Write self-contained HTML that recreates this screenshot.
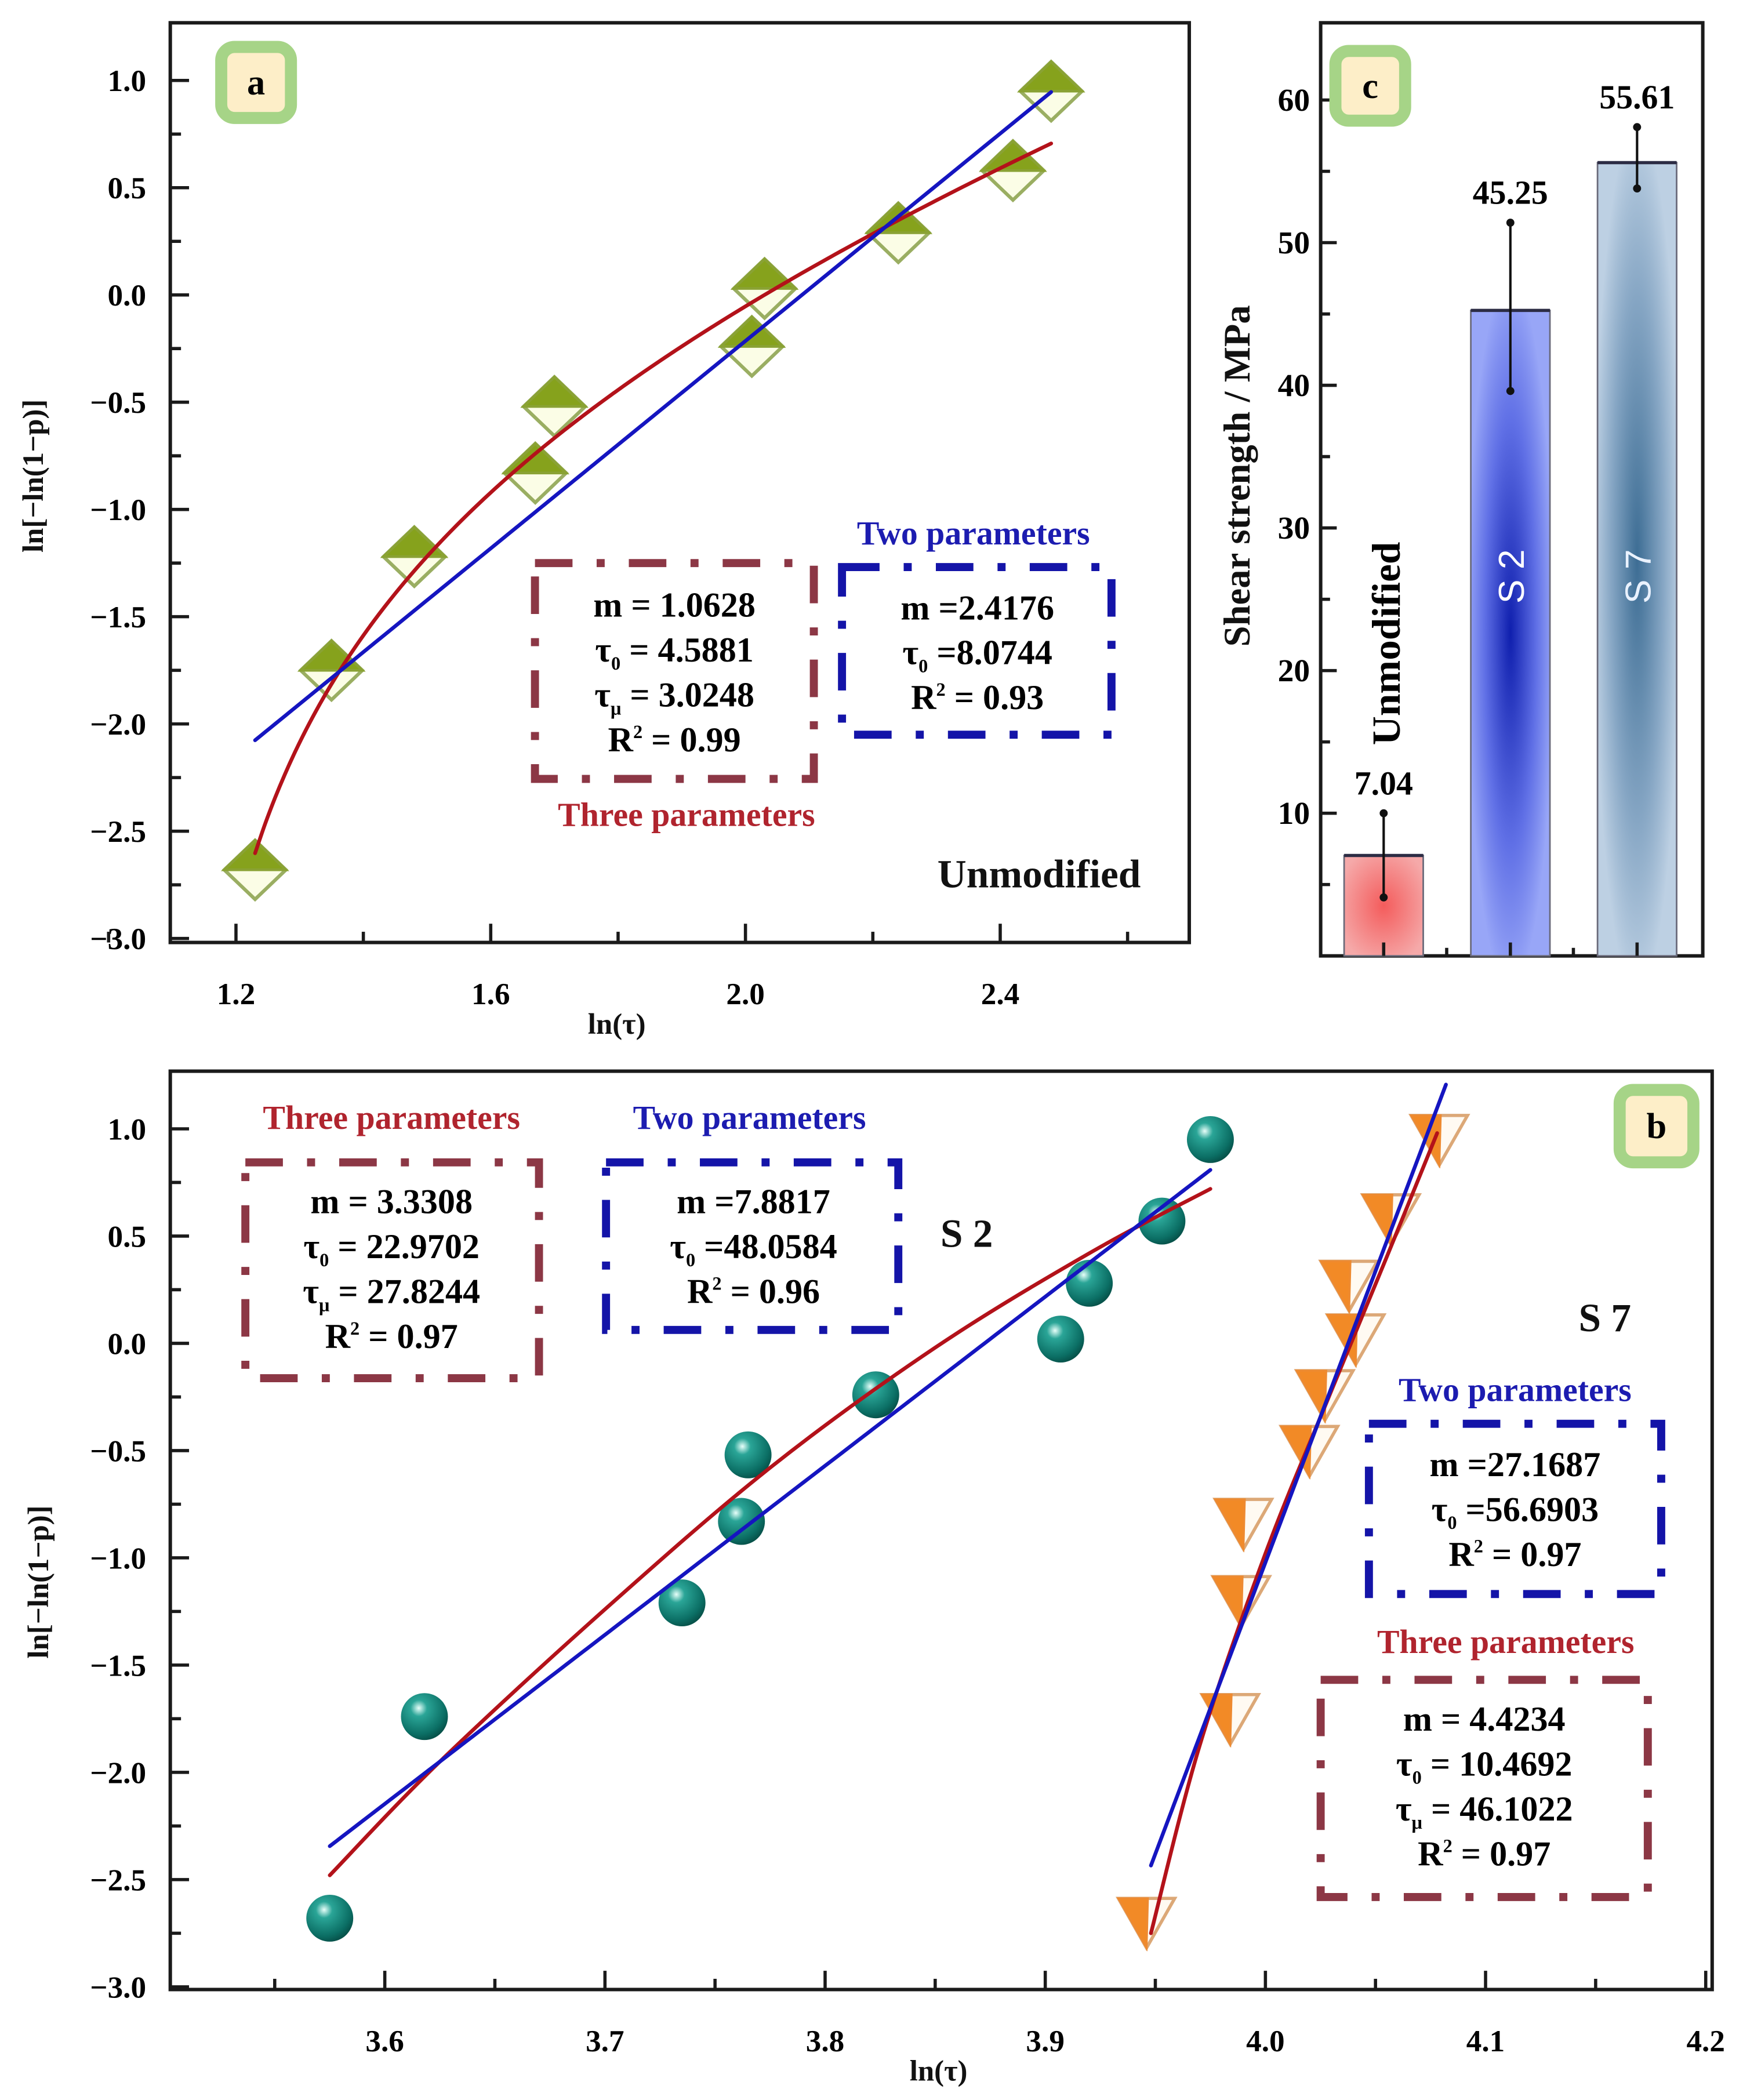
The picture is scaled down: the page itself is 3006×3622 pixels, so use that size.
<!DOCTYPE html>
<html><head><meta charset="utf-8"><style>
html,body{margin:0;padding:0;background:#fff;}
svg{display:block;}
text{font-family:"Liberation Serif",serif;font-weight:bold;}
</style></head><body>
<svg id="fig" width="3006" height="3622" viewBox="0 0 1300 1566.4" preserveAspectRatio="none" xmlns="http://www.w3.org/2000/svg">
<defs>
<radialGradient id="gSphere" cx="0.38" cy="0.32" r="0.7">
<stop offset="0" stop-color="#e8fffa"/><stop offset="0.25" stop-color="#2aa597"/><stop offset="0.8" stop-color="#0b6e64"/><stop offset="1" stop-color="#07524a"/></radialGradient>
<radialGradient id="gRed" cx="0.5" cy="0.5" r="0.6"><stop offset="0" stop-color="#f45c5c"/><stop offset="1" stop-color="#f5a9a9"/></radialGradient>
<radialGradient id="gBlue" cx="0.5" cy="0.5" r="0.55"><stop offset="0" stop-color="#0f1fae"/><stop offset="0.6" stop-color="#6070e6"/><stop offset="1" stop-color="#98a6f7"/></radialGradient>
<radialGradient id="gSteel" cx="0.5" cy="0.5" r="0.55"><stop offset="0" stop-color="#3d6d94"/><stop offset="0.6" stop-color="#86a6c4"/><stop offset="1" stop-color="#bdd0e3"/></radialGradient>
</defs>
<g id="root"></g>
</svg>
<script>
// ---------- Panel a data ----------
const aX = [1.23, 1.35, 1.48, 1.67, 1.70, 2.01, 2.03, 2.24, 2.42, 2.48];
const aY = [-2.68, -1.75, -1.22, -0.83, -0.52, -0.24, 0.03, 0.29, 0.58, 0.95];
const aTwoM = 2.4176, aTwoT0 = 8.0744;
const aThreeM = 1.0628, aThreeT0 = 4.5881, aThreeTu = 3.0248;
const aXRange = [1.23, 2.48];
const aXTicks = [1.2, 1.6, 2.0, 2.4];
const aXTickLabels = ["1.2", "1.6", "2.0", "2.4"];
const yTicks = [1.0, 0.5, 0.0, -0.5, -1.0, -1.5, -2.0, -2.5, -3.0];
const yTickLabels = ["1.0", "0.5", "0.0", "\u22120.5", "\u22121.0", "\u22121.5", "\u22122.0", "\u22122.5", "\u22123.0"];
// ---------- Panel b data ----------
const s2X = [3.575, 3.618, 3.735, 3.762, 3.765, 3.823, 3.907, 3.920, 3.953, 3.975];
const s2Y = [-2.68, -1.74, -1.21, -0.83, -0.52, -0.24, 0.02, 0.28, 0.57, 0.95];
const s7X = [3.946, 3.984, 3.989, 3.990, 4.020, 4.027, 4.041, 4.038, 4.057, 4.079];
const s7Y = [-2.70, -1.75, -1.20, -0.84, -0.50, -0.24, 0.02, 0.27, 0.58, 0.95];
const s2TwoM = 7.8817, s2TwoT0 = 48.0584, s2XRange = [3.575, 3.975];
const s7TwoM = 27.1687, s7TwoT0 = 56.6903, s7XRange = [3.948, 4.082];
const s2RedX = [3.575, 3.625, 3.70, 3.775, 3.85, 3.92, 3.975];
const s2RedY = [-2.48, -1.95, -1.24, -0.58, -0.02, 0.42, 0.72];
const s7RedX = [3.948, 3.97, 4.0, 4.03, 4.055, 4.078];
const s7RedY = [-2.75, -1.88, -0.98, -0.22, 0.40, 0.98];
const bXTicks = [3.6, 3.7, 3.8, 3.9, 4.0, 4.1, 4.2];
const bXTickLabels = ["3.6", "3.7", "3.8", "3.9", "4.0", "4.1", "4.2"];
// ---------- Panel c data ----------
const cCats = ["Unmodified", "S 2", "S 7"];
const cVals = [7.04, 45.25, 55.61];
const cLabels = ["7.04", "45.25", "55.61"];
const cErrLo = [4.1, 39.6, 53.8];
const cErrHi = [10.0, 51.4, 58.1];
const cYTicks = [10, 20, 30, 40, 50, 60];

const NS = "http://www.w3.org/2000/svg";
const root = document.getElementById('root');
function mk(tag, attrs, parent, txt) {
  const e = document.createElementNS(NS, tag);
  for (const k in attrs) e.setAttribute(k, attrs[k]);
  if (txt !== undefined) e.textContent = txt;
  (parent || root).appendChild(e);
  return e;
}
// axis functions
const aXf = v => 176 + (v - 1.2) * 475;
const aYf = v => 60 + (1 - v) * 160;
const bXf = v => 287 + (v - 3.6) * 1642;
const bYf = v => 842 + (1 - v) * 160;
const cYf = v => 713 - v * 10.64;

function frame(x0, y0, x1, y1, name) {
  const r = mk('rect', {x: x0, y: y0, width: x1 - x0, height: y1 - y0, fill: 'none', stroke: '#1a1a1a', 'stroke-width': 2.6});
  
  
}
function yAxis(Yf, x0, name) {
  const g = mk('g', {});
  
  
  yTicks.forEach((v, i) => {
    mk('line', {x1: x0, x2: x0 + 14, y1: Yf(v), y2: Yf(v), stroke: '#1a1a1a', 'stroke-width': 2.4}, g);
    if (i < yTicks.length - 1) { const m = v - 0.25; mk('line', {x1: x0, x2: x0 + 8, y1: Yf(m), y2: Yf(m), stroke: '#1a1a1a', 'stroke-width': 2.4}, g); }
    const t = mk('text', {x: x0 - 18, y: Yf(v) + 8, 'text-anchor': 'end', 'font-size': 23}, g, yTickLabels[i]);
    
    
  });
}
function xAxis(Xf, ticks, labels, minorStep, yb, labY, name) {
  const g = mk('g', {});
  
  
  ticks.forEach((v, i) => {
    mk('line', {x1: Xf(v), x2: Xf(v), y1: yb, y2: yb - 14, stroke: '#1a1a1a', 'stroke-width': 2.4}, g);
    mk('line', {x1: Xf(v + minorStep), x2: Xf(v + minorStep), y1: yb, y2: yb - 8, stroke: '#1a1a1a', 'stroke-width': 2.4}, g);
    if (i === 0) mk('line', {x1: Xf(v - minorStep), x2: Xf(v - minorStep), y1: yb, y2: yb - 8, stroke: '#1a1a1a', 'stroke-width': 2.4}, g);
    const t = mk('text', {x: Xf(v), y: labY, 'text-anchor': 'middle', 'font-size': 23}, g, labels[i]);
    
    
  });
}
function poly(Xf, Yf, xs, ys, color, name) {
  const P = xs.map((x, i) => [Xf(x), Yf(ys[i])]);
  let d = 'M' + P[0][0].toFixed(2) + ',' + P[0][1].toFixed(2);
  for (let i = 0; i < P.length - 1; i++) {
    const p0 = P[Math.max(i - 1, 0)], p1 = P[i], p2 = P[i + 1], p3 = P[Math.min(i + 2, P.length - 1)];
    const c1 = [p1[0] + (p2[0] - p0[0]) / 6, p1[1] + (p2[1] - p0[1]) / 6];
    const c2 = [p2[0] - (p3[0] - p1[0]) / 6, p2[1] - (p3[1] - p1[1]) / 6];
    d += ` C${c1[0].toFixed(2)},${c1[1].toFixed(2)} ${c2[0].toFixed(2)},${c2[1].toFixed(2)} ${p2[0].toFixed(2)},${p2[1].toFixed(2)}`;
  }
  const p = mk('path', {d: d, fill: 'none', stroke: color, 'stroke-width': 2.8, 'stroke-linecap': 'round', 'stroke-linejoin': 'round'});
  
  
}
function labelBox(x, y, txt, size, color, anchor, name) {
  const t = mk('text', {x: x, y: y, 'font-size': size, fill: color, 'text-anchor': anchor || 'middle'}, root, txt);
  
  
  return t;
}
function dashBox(x0, y0, x1, y1, color, name) {
  const r = mk('rect', {x: x0, y: y0, width: x1 - x0, height: y1 - y0, fill: 'none', stroke: color, 'stroke-width': 6, 'stroke-dasharray': '28 18 6 18'});
  
  
}
function paramLines(cx, y0, lines, name) {
  const g = mk('g', {});
  
  
  lines.forEach((L, i) => {
    const t = mk('text', {x: cx, y: y0 + i * 33.5, 'text-anchor': 'middle', 'font-size': 26}, g);
    mk('tspan', {}, t, L[0]);
    if (L[1]) { mk('tspan', {'font-size': 14, dy: L[1] === '2' ? -10 : 6}, t, L[1]); }
    mk('tspan', {dy: L[1] ? (L[1] === '2' ? 10 : -6) : 0}, t, L[2]);
  });
}
function tag(x0, y0, w, h, letter, name) {
  const g = mk('g', {});
  
  
  mk('rect', {x: x0 + 5, y: y0 + 5, width: w - 10, height: h - 10, rx: 10, fill: '#fdeec8', stroke: '#a6d487', 'stroke-width': 9}, g);
  mk('text', {x: x0 + w / 2, y: y0 + h / 2 + 9, 'text-anchor': 'middle', 'font-size': 27}, g, letter);
}
function diamond(cx, cy) {
  const g = mk('g', {});
  
  
  mk('polygon', {points: `${cx},${cy - 22} ${cx + 23},${cy} ${cx},${cy + 22} ${cx - 23},${cy}`, fill: '#fbfde6', stroke: '#9aae62', 'stroke-width': 2.6}, g);
  mk('polygon', {points: `${cx},${cy - 22} ${cx + 23},${cy} ${cx - 23},${cy}`, fill: '#86a21c', stroke: '#8aa234', 'stroke-width': 2}, g);
}
function tri(cx, cy) {
  const g = mk('g', {});
  
  
  mk('polygon', {points: `${cx - 21},${cy - 18} ${cx + 21},${cy - 18} ${cx},${cy + 19}`, fill: '#fffaf2', stroke: '#dca877', 'stroke-width': 2.4}, g);
  mk('polygon', {points: `${cx - 21},${cy - 18} ${cx + 1},${cy - 18} ${cx},${cy + 19}`, fill: '#f28a26', stroke: '#ee8a30', 'stroke-width': 1.5}, g);
}
function sphere(cx, cy) {
  const c = mk('circle', {cx: cx, cy: cy, r: 17.5, fill: 'url(#gSphere)'});
  
  
}
function sample(f, r) { const xs = [], ys = []; for (let i = 0; i <= 80; i++) { const x = r[0] + (r[1] - r[0]) * i / 80; xs.push(x); ys.push(f(x)); } return [xs, ys]; }

// ================= Panel a =================
frame(127, 17, 887, 703, 'panel-a-frame');
yAxis(aYf, 127, 'panel-a-y-axis');
xAxis(aXf, aXTicks, aXTickLabels, 0.2, 703, 749, 'panel-a-x-axis');
labelBox(460, 771, 'ln(\u03c4)', 22, '#111', 'middle', 'panel-a-x-axis-title');
labelBox(0, 0, 'ln[\u2212ln(1\u2212p)]', 22, '#111', 'middle', 'panel-a-y-axis-title').setAttribute('transform', 'translate(32,355) rotate(-90)');
aX.forEach((x, i) => diamond(aXf(x), aYf(aY[i])));
{ const [xs, ys] = sample(x => aThreeM * (Math.log(Math.exp(x) - aThreeTu) - Math.log(aThreeT0)), aXRange); poly(aXf, aYf, xs, ys, '#b3121a', 'three-param-fit-a'); }
{ const [xs, ys] = sample(x => aTwoM * (x - Math.log(aTwoT0)), aXRange); poly(aXf, aYf, xs, ys, '#1515c0', 'two-param-fit-a'); }
tag(160, 30, 62, 63, 'a', 'panel-a-tag');
dashBox(399, 420, 607, 581, '#8c3745', 'three-param-box-a');
paramLines(503, 460, [['m = 1.0628', '', ''], ['\u03c4', '0', ' = 4.5881'], ['\u03c4', '\u03bc', ' = 3.0248'], ['R', '2', ' = 0.99']], 'three-param-values-a');
dashBox(628, 423, 829, 548, '#1414a8', 'two-param-box-a');
paramLines(729, 462, [['m =2.4176', '', ''], ['\u03c4', '0', ' =8.0744'], ['R', '2', ' = 0.93']], 'two-param-values-a');
labelBox(726, 406, 'Two parameters', 25, '#1c1cb0', 'middle', 'two-param-label-a');
labelBox(512, 616, 'Three parameters', 25, '#b0242e', 'middle', 'three-param-label-a');
labelBox(775, 662, 'Unmodified', 30, '#111', 'middle', 'unmodified-label-a');

// ================= Panel c =================
frame(985, 17, 1270, 713, 'panel-c-frame');
{
  const g = mk('g', {});
  
  
  cYTicks.forEach(v => {
    mk('line', {x1: 985, x2: 997, y1: cYf(v), y2: cYf(v), stroke: '#1a1a1a', 'stroke-width': 2.4}, g);
    mk('line', {x1: 985, x2: 992, y1: cYf(v - 5), y2: cYf(v - 5), stroke: '#1a1a1a', 'stroke-width': 2.4}, g);
    mk('text', {x: 977, y: cYf(v) + 8, 'text-anchor': 'end', 'font-size': 24}, g, String(v));
  });
}
labelBox(0, 0, 'Shear strength / MPa', 28, '#111', 'middle', 'panel-c-y-axis-title').setAttribute('transform', 'translate(932,355) rotate(-90)');
const cFills = ['url(#gRed)', 'url(#gBlue)', 'url(#gSteel)'];
const cTxtCol = ['#111', '#ffffff', '#eaf2ff'];
cCats.forEach((c, i) => {
  const cx = 1032 + i * 94.5, w = 59;
  const g = mk('g', {});
  
  
  mk('rect', {x: cx - w / 2, y: cYf(cVals[i]), width: w, height: cYf(0) - cYf(cVals[i]), fill: cFills[i], stroke: '#6a6a7a', 'stroke-width': 1.2}, g);
  mk('line', {x1: cx - w / 2, x2: cx + w / 2, y1: cYf(cVals[i]), y2: cYf(cVals[i]), stroke: '#2c2c44', 'stroke-width': 2.4}, g);
  mk('line', {x1: cx, x2: cx, y1: cYf(cErrLo[i]), y2: cYf(cErrHi[i]), stroke: '#111', 'stroke-width': 1.8}, g);
  mk('circle', {cx: cx, cy: cYf(cErrLo[i]), r: 3, fill: '#111'}, g);
  mk('circle', {cx: cx, cy: cYf(cErrHi[i]), r: 3, fill: '#111'}, g);
  mk('line', {x1: cx, x2: cx, y1: 713, y2: 703, stroke: '#1a1a1a', 'stroke-width': 2.4}, g);
  if (i < 2) mk('line', {x1: cx + 47, x2: cx + 47, y1: 713, y2: 707, stroke: '#1a1a1a', 'stroke-width': 2.4}, g);
  mk('text', {x: cx, y: cYf(cErrHi[i]) - 14, 'text-anchor': 'middle', 'font-size': 25}, g, cLabels[i]);
  if (i === 0) {
    mk('text', {'text-anchor': 'middle', 'font-size': 30, transform: `translate(${cx + 12},480) rotate(-90)`}, g, c);
  } else {
    mk('text', {'text-anchor': 'middle', 'font-size': 27, fill: cTxtCol[i], style: 'font-family:"Liberation Sans",sans-serif;font-weight:normal', transform: `translate(${cx + 10},430) rotate(-90)`}, g, c);
  }
});
tag(991, 33, 62, 62, 'c', 'panel-c-tag');

// ================= Panel b =================
frame(127, 799, 1277, 1484, 'panel-b-frame');
yAxis(bYf, 127, 'panel-b-y-axis');
xAxis(bXf, bXTicks, bXTickLabels, 0.05, 1484, 1530, 'panel-b-x-axis');
labelBox(700, 1552, 'ln(\u03c4)', 22, '#111', 'middle', 'panel-b-x-axis-title');
labelBox(0, 0, 'ln[\u2212ln(1\u2212p)]', 22, '#111', 'middle', 'panel-b-y-axis-title').setAttribute('transform', 'translate(36,1180) rotate(-90)');
s2X.forEach((x, i) => sphere(bXf(x), bYf(s2Y[i])));
s7X.forEach((x, i) => tri(bXf(x), bYf(s7Y[i])));
poly(bXf, bYf, s2RedX, s2RedY, '#b3121a', 'three-param-fit-s2');
{ const [xs, ys] = sample(x => s2TwoM * (x - Math.log(s2TwoT0)), s2XRange); poly(bXf, bYf, xs, ys, '#1515c0', 'two-param-fit-s2'); }
poly(bXf, bYf, s7RedX, s7RedY, '#b3121a', 'three-param-fit-s7');
{ const [xs, ys] = sample(x => s7TwoM * (x - Math.log(s7TwoT0)), s7XRange); poly(bXf, bYf, xs, ys, '#1515c0', 'two-param-fit-s7'); }
tag(1203, 808, 65, 64, 'b', 'panel-b-tag');
labelBox(292, 842, 'Three parameters', 25, '#b0242e', 'middle', 'three-param-label-s2');
dashBox(183, 867, 402, 1028, '#8c3745', 'three-param-box-s2');
paramLines(292, 905, [['m = 3.3308', '', ''], ['\u03c4', '0', ' = 22.9702'], ['\u03c4', '\u03bc', ' = 27.8244'], ['R', '2', ' = 0.97']], 'three-param-values-s2');
labelBox(559, 842, 'Two parameters', 25, '#1c1cb0', 'middle', 'two-param-label-s2');
dashBox(452, 867, 670, 992, '#1414a8', 'two-param-box-s2');
paramLines(562, 905, [['m =7.8817', '', ''], ['\u03c4', '0', ' =48.0584'], ['R', '2', ' = 0.96']], 'two-param-values-s2');
labelBox(721, 930, 'S 2', 30, '#111', 'middle', 'series-label-s2');
labelBox(1197, 993, 'S 7', 30, '#111', 'middle', 'series-label-s7');
labelBox(1130, 1045, 'Two parameters', 25, '#1c1cb0', 'middle', 'two-param-label-s7');
dashBox(1021, 1062, 1239, 1189, '#1414a8', 'two-param-box-s7');
paramLines(1130, 1101, [['m =27.1687', '', ''], ['\u03c4', '0', ' =56.6903'], ['R', '2', ' = 0.97']], 'two-param-values-s7');
labelBox(1123, 1233, 'Three parameters', 25, '#b0242e', 'middle', 'three-param-label-s7');
dashBox(985, 1253, 1229, 1415, '#8c3745', 'three-param-box-s7');
paramLines(1107, 1291, [['m = 4.4234', '', ''], ['\u03c4', '0', ' = 10.4692'], ['\u03c4', '\u03bc', ' = 46.1022'], ['R', '2', ' = 0.97']], 'three-param-values-s7');
</script>
</body></html>
